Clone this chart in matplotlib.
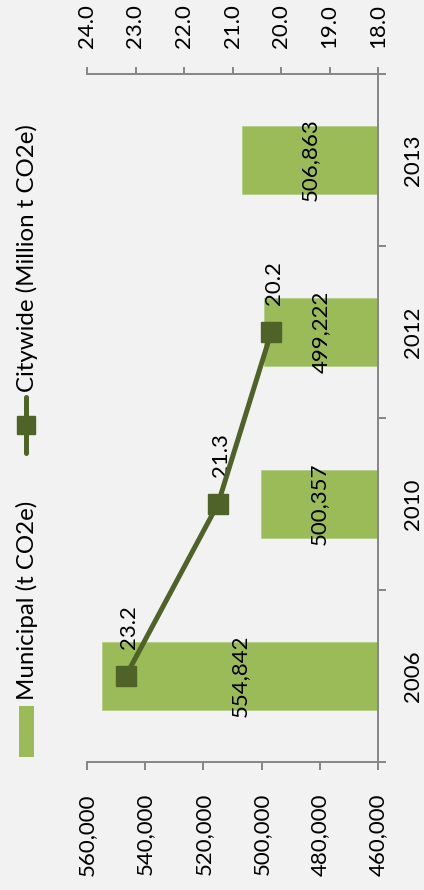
import matplotlib
matplotlib.use("Agg")
import matplotlib.pyplot as plt
import numpy as np
from matplotlib.patches import Rectangle
from matplotlib.lines import Line2D

years = ["2006", "2010", "2012", "2013"]
municipal = [554842, 500357, 499222, 506863]
citywide_years = ["2006", "2010", "2012"]
citywide = [23.2, 21.3, 20.2]
primary_ticks = [460000, 480000, 500000, 520000, 540000, 560000]
secondary_ticks = [18.0, 19.0, 20.0, 21.0, 22.0, 23.0, 24.0]

BG = "#f2f2f2"
BAR = "#9bbb59"
LINE = "#4f6228"
AX = "#868686"
FS = 16
FS_LEG = 17.3
PX = 72 / 100  # points per pixel
plt.rcParams['font.family'] = ['Lato', 'DejaVu Sans']

W, H = 424, 890
fig = plt.figure(figsize=(W / 100, H / 100), dpi=100, facecolor=BG)
ax = fig.add_axes([87 / W, (H - 762) / H, (378 - 87) / W, (762 - 74) / H])
ax.set_facecolor(BG)

pos = np.arange(len(years))
base = primary_ticks[0]
vals = np.array(municipal)
ax.barh(pos, vals - base, left=base, height=0.4, color=BAR, edgecolor="#b5cc85", linewidth=0.6, zorder=2)
ax.set_xlim(primary_ticks[-1], primary_ticks[0])
ax.set_ylim(-0.5, len(years) - 0.5)

for p, v in zip(pos, vals):
    ax.text((base + v) / 2, p, f"{v:,}", rotation=90, ha="center", va="center", fontsize=FS, zorder=4)

# primary axis (bottom)
ax.set_xticks(primary_ticks)
ax.set_xticklabels([f"{t:,}" for t in primary_ticks], rotation=90, fontsize=FS)
ax.tick_params(axis="x", direction="out", length=8 * PX, width=1.4, color=AX, pad=23 * PX)

# category axis (right)
ax.yaxis.tick_right()
ax.set_yticks(pos)
ax.set_yticklabels(years, rotation=90, fontsize=FS, va="center")
ax.tick_params(axis="y", which="major", length=0, pad=25 * PX)
ax.set_yticks(np.arange(-0.5, len(years)), minor=True)
ax.tick_params(axis="y", which="minor", direction="out", length=8 * PX, width=1.4, color=AX)

for s in ["left", "top"]:
    ax.spines[s].set_visible(False)
for s in ["right", "bottom"]:
    ax.spines[s].set_color(AX)
    ax.spines[s].set_linewidth(1.4)

# secondary axis (top)
ax2 = ax.twiny()
ax2.set_xlim(secondary_ticks[-1], secondary_ticks[0])
ax2.set_xticks(secondary_ticks)
ax2.set_xticklabels([f"{t:.1f}" for t in secondary_ticks], rotation=90, fontsize=FS)
ax2.tick_params(axis="x", direction="out", length=7 * PX, width=1.4, color=AX, pad=19 * PX)
for s in ["left", "right", "bottom"]:
    ax2.spines[s].set_visible(False)
ax2.spines["top"].set_color(AX)
ax2.spines["top"].set_linewidth(1.4)

cpos = [years.index(y) for y in citywide_years]
ax2.plot(citywide, cpos, color=LINE, lw=3.6, marker="s", markersize=14.5, zorder=5,
         solid_capstyle="round")
for v, p in zip(citywide, cpos):
    ax2.annotate(f"{v:.1f}", (v, p), xytext=(2, 35), textcoords="offset points",
                 rotation=90, ha="center", va="center", fontsize=FS)

# legend (vertical, drawn in figure coordinates)
fig.patches.append(Rectangle((19 / W, (H - 757) / H), 15 / W, 51 / H, transform=fig.transFigure,
                             facecolor=BAR, edgecolor="none"))
fig.text(27 / W, (H - 700) / H, "Municipal (t CO2e)", rotation=90, ha="center", va="bottom", fontsize=FS_LEG)
fig.lines.append(Line2D([26 / W, 26 / W], [(H - 453) / H, (H - 397) / H], transform=fig.transFigure,
                        color=LINE, lw=3.6, solid_capstyle="round"))
fig.lines.append(Line2D([26 / W], [(H - 425) / H], transform=fig.transFigure, color=LINE,
                        marker="s", markersize=12.5, linestyle="none"))
fig.text(27 / W, (H - 392) / H, "Citywide (Million t CO2e)", rotation=90, ha="center", va="bottom", fontsize=FS_LEG)

fig.savefig("out.png", dpi=100, facecolor=BG)
